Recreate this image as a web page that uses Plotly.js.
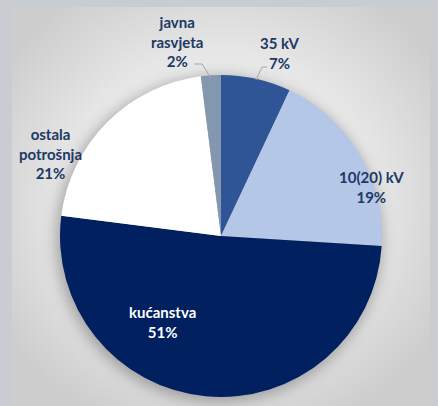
<!DOCTYPE html>
<html>
<head>
<meta charset="utf-8">
<script src="https://cdn.plot.ly/plotly-3.0.1.min.js"></script>
<style>
  html, body { margin: 0; padding: 0; background: #c9cdd2; }
  #chart { width: 438px; height: 406px; }
</style>
</head>
<body>
<div id="chart"></div>
<script>
// Slice data (clockwise from 12 o'clock)
const sliceLabels = ['35 kV', '10(20) kV', 'kućanstva', 'ostala potrošnja', 'javna rasvjeta'];
const sliceShort  = ['35 kV', '10(20) kV', 'kućanstva', 'ostala<br>potrošnja', 'javna<br>rasvjeta'];
const sliceValues = [7, 19, 51, 21, 2];
const sliceColors = ['#2f5597', '#b4c7e7', '#002060', '#ffffff', '#8497b0'];
const textColors  = ['#203864', '#203864', '#ffffff', '#203864', '#203864'];

// label centres in pixels (x, y from top)
const labelPos = [[280, 53], [371, 187], [162, 322], [50, 153], [177, 41]];

const W = 438, H = 406;
const px = x => x / W;
const py = y => 1 - y / H;

// pie placement
const cx = 221, cy = 236, r = 161;

// background panel with soft radial gradient and pie shadow
const bgSvg =
  '<svg xmlns="http://www.w3.org/2000/svg" width="438" height="406">' +
  '<defs><radialGradient id="g" cx="50%" cy="48%" r="62%">' +
  '<stop offset="0" stop-color="#f8f8f8"/><stop offset="0.6" stop-color="#e6e6e6"/>' +
  '<stop offset="1" stop-color="#cdcdcd"/></radialGradient>' +
  '<filter id="b" x="-20%" y="-20%" width="140%" height="140%"><feGaussianBlur stdDeviation="7"/></filter></defs>' +
  '<rect width="438" height="406" fill="#c9cdd2"/>' +
  '<rect x="12" y="7" width="418" height="399" fill="url(#g)"/>' +
  '<circle cx="' + (cx - 2) + '" cy="' + (cy + 3) + '" r="' + (r + 2) + '" fill="rgba(0,0,0,0.28)" filter="url(#b)"/>' +
  '</svg>';

const trace = {
    type: 'pie',
    labels: sliceLabels,
    values: sliceValues,
    sort: false,
    direction: 'clockwise',
    rotation: 0,
    textinfo: 'none',
    hoverinfo: 'skip',
    marker: { colors: sliceColors, line: { width: 0 } },
    domain: { x: [px(cx - r), px(cx + r)], y: [py(cy + r), py(cy - r)] },
    showlegend: false
};

const total = sliceValues.reduce((a, b) => a + b, 0);

const annotations = sliceShort.map((lab, i) => ({
    xref: 'paper', yref: 'paper',
    x: px(labelPos[i][0]), y: py(labelPos[i][1]),
    xanchor: 'center', yanchor: 'middle',
    text: lab + '<br>' + Math.round(sliceValues[i] / total * 100) + '%',
    showarrow: false,
    align: 'center',
    font: { family: 'Lato, "Open Sans", sans-serif', size: 15, color: textColors[i], weight: 'bold' }
}));

// leader lines for the two small slices
const leader = pts => ({
    type: 'path', xref: 'paper', yref: 'paper',
    path: pts.map((p, i) => (i ? 'L' : 'M') + px(p[0]) + ',' + py(p[1])).join(' '),
    line: { color: '#a6a6a6', width: 1 }
});

const layout = {
    width: W, height: H,
    margin: { l: 0, r: 0, t: 0, b: 0 },
    paper_bgcolor: '#c9cdd2',
    images: [{
        source: 'data:image/svg+xml;charset=utf-8,' + encodeURIComponent(bgSvg),
        xref: 'paper', yref: 'paper', x: 0, y: 1, sizex: 1, sizey: 1,
        sizing: 'stretch', layer: 'below', xanchor: 'left', yanchor: 'top'
    }],
    annotations: annotations,
    shapes: [
        leader([[194, 64], [202, 64], [211, 78]]),
        leader([[267, 67], [262, 67], [256, 80]])
    ]
};

Plotly.newPlot('chart', [trace], layout, { displayModeBar: false, staticPlot: true });
</script>
</body>
</html>
